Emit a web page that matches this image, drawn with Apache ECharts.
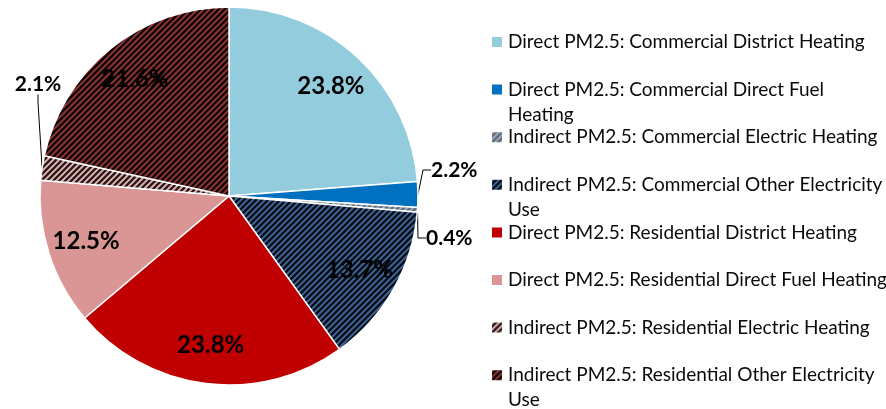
<!DOCTYPE html>
<html>
<head>
<meta charset="utf-8">
<script src="https://cdn.jsdelivr.net/npm/echarts@6/dist/echarts.min.js"></script>
<style>
  html, body { margin: 0; padding: 0; background: #fff; }
  #main { width: 886px; height: 409px; }
</style>
</head>
<body>
<div id="main"></div>
<script>
var names = [
  "Direct PM2.5: Commercial District Heating",
  "Direct PM2.5: Commercial Direct Fuel Heating",
  "Indirect PM2.5: Commercial Electric Heating",
  "Indirect PM2.5: Commercial Other Electricity Use",
  "Direct PM2.5: Residential District Heating",
  "Direct PM2.5: Residential Direct Fuel Heating",
  "Indirect PM2.5: Residential Electric Heating",
  "Indirect PM2.5: Residential Other Electricity Use"
];
var values = [23.8, 2.2, 0.4, 13.7, 23.8, 12.5, 2.1, 21.6];
var baseColors = ["#93CDDD", "#0070C0", "#95B3D7", "#3F6A9E", "#C00000", "#DA9694", "#E6B9B8", "#963634"];
var stripeColors = [null, null, "#6A6A6A", "#0A0F18", null, null, "#2A1A1A", "#100808"];
// legend lines wrapped like the original
var legendText = [
  "Direct PM2.5: Commercial District Heating",
  "Direct PM2.5: Commercial Direct Fuel\nHeating",
  "Indirect PM2.5: Commercial Electric Heating",
  "Indirect PM2.5: Commercial Other Electricity\nUse",
  "Direct PM2.5: Residential District Heating",
  "Direct PM2.5: Residential Direct Fuel Heating",
  "Indirect PM2.5: Residential Electric Heating",
  "Indirect PM2.5: Residential Other Electricity\nUse"
];
var outsideIdx = [1, 2, 6];
// where the small outside labels sit [x, y, align]
var outsidePos = { 1: [431, 170, "left"], 2: [426, 238, "left"], 6: [38, 84, "center"] };

function hatch(base, stripe) {
  var c = document.createElement("canvas");
  c.width = 6; c.height = 6;
  var g = c.getContext("2d");
  g.fillStyle = base;
  g.fillRect(0, 0, 6, 6);
  g.strokeStyle = stripe;
  g.lineWidth = 2.4;
  g.beginPath();
  g.moveTo(-1, 7); g.lineTo(7, -1);
  g.moveTo(-4, 4); g.lineTo(4, -4);
  g.moveTo(2, 10); g.lineTo(10, 2);
  g.stroke();
  return { image: c, repeat: "repeat" };
}

var myChart = echarts.init(document.getElementById("main"));

var mainData = names.map(function (n, i) {
  var showOut = outsideIdx.indexOf(i) >= 0;
  return {
    name: n,
    value: values[i],
    itemStyle: { color: stripeColors[i] ? hatch(baseColors[i], stripeColors[i]) : baseColors[i] },
    label: { show: showOut },
    labelLine: { show: showOut }
  };
});
var innerData = names.map(function (n, i) {
  return {
    name: n,
    value: values[i],
    label: { show: outsideIdx.indexOf(i) < 0 }
  };
});

var legends = names.map(function (n, i) {
  var cy = 42 + i * 47.6;
  var wrapped = legendText[i].indexOf("\n") >= 0;
  return {
    orient: "vertical",
    left: 490,
    top: wrapped ? cy - 37.5 : cy - 12.5,
    padding: 0,
    data: [n],
    itemWidth: 12,
    itemHeight: 12,
    itemGap: 0,
    icon: "rect",
    selectedMode: false,
    // a blank first line keeps the first text line level with the icon
    formatter: function () { return wrapped ? " \n" + legendText[i] : legendText[i]; },
    textStyle: {
      fontFamily: "Lato",
      fontSize: 19,
      color: "#0a0a0a",
      lineHeight: 25
    }
  };
});

var option = {
  animation: false,
  legend: legends,
  series: [
    {
      type: "pie",
      center: [229, 196],
      radius: 189,
      startAngle: 90,
      clockwise: true,
      itemStyle: { borderColor: "#fff", borderWidth: 1.5 },
      label: {
        position: "outside",
        width: 60,
        overflow: "none",
        formatter: function (p) { return p.value.toFixed(1) + "%"; },
        fontFamily: "Lato",
        fontWeight: "bold",
        fontSize: 21,
        color: "#000"
      },
      labelLine: {
        length: 12,
        length2: 8,
        lineStyle: { color: "#000", width: 1 }
      },
      labelLayout: function (p) {
        var pos = outsidePos[p.dataIndex];
        if (!pos) return {};
        return { x: pos[0], y: pos[1], align: pos[2], verticalAlign: "middle" };
      },
      data: mainData
    },
    {
      // transparent ring, only there to put the inside labels further out
      type: "pie",
      center: [229, 196],
      radius: [105, 189],
      startAngle: 90,
      silent: true,
      itemStyle: { color: "rgba(0,0,0,0)" },
      label: {
        position: "inside",
        formatter: function (p) { return p.value.toFixed(1) + "%"; },
        fontFamily: "Lato",
        fontWeight: "bold",
        fontSize: 24,
        color: "#000"
      },
      labelLine: { show: false },
      data: innerData
    }
  ]
};

myChart.setOption(option);
</script>
</body>
</html>
